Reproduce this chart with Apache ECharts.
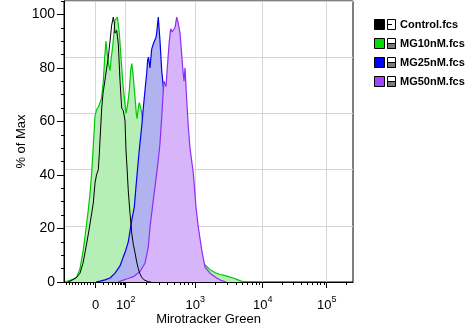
<!DOCTYPE html>
<html><head><meta charset="utf-8">
<script src="https://cdn.jsdelivr.net/npm/echarts@6/dist/echarts.min.js"></script>
<style>html,body{margin:0;padding:0;background:#fff}#c{width:474px;height:331px}</style>
</head><body><div id="c"></div>
<script>
// x = display channel (0-1024) of the biexponential axis, y = % of Max
const seriesNames = ['Control.fcs', 'MG10nM.fcs', 'MG25nM.fcs', 'MG50nM.fcs'];
const control = [[14,0],[21.3,0.3],[28.3,0.8],[42.5,1.5],[56.7,3.3],[67.3,7],[77.9,13],[88.6,19.4],[98.2,25.7],[103.8,29.5],[109.9,37],[115.2,40],[121.6,42],[125.2,48],[127.6,53],[133.6,65],[138.2,70.5],[145.3,75.5],[151.3,80],[157.0,84],[163.0,90],[169.0,96],[174.7,99],[177.9,97],[180.7,93],[186.7,94],[192.4,89],[198.4,75.4],[204.4,65],[210.1,64],[216.1,60.4],[219.7,49],[223.2,43],[227.8,34],[233.9,25.7],[239.9,18.3],[245.6,14],[251.6,11],[257.6,7.5],[263.3,5],[269.3,3],[275.3,1.8],[283.5,0.8],[298.7,0.1],[308.3,0]];
const mg10 = [[7.1,0.2],[21.3,0.6],[35.4,1.2],[45.0,1.8],[56.7,5],[68.4,12],[78.0,20],[86.1,27],[92.1,33],[98.2,41],[103.8,51],[109.9,62],[115.9,64.5],[121.5,65.3],[127.6,67],[133.6,69],[139.3,75],[144.2,84],[148.8,90],[153.4,85],[158.4,81],[163.0,79],[167.6,84],[172.6,88],[180.7,97.8],[188.9,99],[195.9,93],[202.0,84],[208.0,75],[214.4,68],[219.7,63],[225.0,66],[231.4,71.6],[236.3,79],[239.9,81.6],[243.4,79],[245.6,76.5],[251.6,69],[256.2,63],[258.7,61],[263.3,65],[266.8,67],[269.3,67],[273.9,64],[278.1,61],[284.5,58],[290.6,50],[297.6,43],[304.7,37],[322.4,29],[340.2,24],[357.9,21],[375.6,19],[393.4,17.5],[411.1,16],[428.7,14.5],[446.5,12.5],[464.2,10.5],[481.9,8.5],[493.6,7],[505.6,5.8],[517.3,4.6],[529.0,3.9],[541.1,3.2],[552.8,2.8],[564.4,2.6],[576.5,2.2],[588.2,1.8],[599.9,1.5],[611.9,1],[623.6,0.5],[634.3,0.1],[641.3,0]];
const mg25 = [[113.4,0],[127.6,0.3],[145.3,0.8],[163.0,1.5],[180.7,3.3],[198.4,6],[210.1,9.4],[216.1,11],[227.8,15],[239.9,23],[249.1,28],[255.1,35.6],[263.3,45.5],[269.3,52],[275.3,58],[281.0,65],[287.0,71.6],[293.0,78],[296.5,83],[299.4,84],[304.7,80],[310.7,87],[316.4,89],[322.4,89.6],[325.9,91.4],[328.4,93],[334.1,99],[340.2,90],[346.2,79],[351.8,73],[357.9,63],[366.8,48],[375.6,36],[384.5,25],[393.4,17],[402.2,11],[411.1,7],[428.7,3],[446.5,1.2],[464.2,0.4],[481.9,0]];
const mg50 = [[191.3,0],[210.1,0.7],[226.8,1.3],[245.6,2],[269.3,3.9],[287.0,7],[298.7,13],[304.7,20.5],[316.4,30.6],[328.5,40.7],[336.6,48],[340.2,52],[346.2,61.6],[350.8,70],[354.3,75],[361.4,73],[366.0,80],[373.1,90],[378.0,94.6],[382.6,93.5],[387.3,93],[393.3,95],[399.3,99],[405.0,96.6],[411.0,93],[416.3,86],[420.6,80],[425.2,75],[428.7,80],[434.8,68],[440.4,58],[446.5,50],[458.2,40.7],[467.7,28],[475.9,20.5],[487.9,12],[499.6,5.6],[517.3,3.3],[541.1,1.5],[558.8,0.5],[574.1,0]];

// axis: intensity values of labelled ticks and their display channels
const xTickValues = [0, 100, 1000, 10000, 100000];
const xTickChannels = [112.3, 218.6, 465.2, 704.0, 930.8];
const xTickLabels = ['0', '10^2', '10^3', '10^4', '10^5'];
const yTickValues = [0, 20, 40, 60, 80, 100];

function toChannel(v) {
  const c0 = xTickChannels[0], c100 = xTickChannels[1];
  if (v <= 0) return c0 + v * 1.0276;
  if (v < 100) return c0 + (c100 - c0) * Math.asinh(v / 15) / Math.asinh(100 / 15);
  const lg = Math.log10(v);
  let k = Math.floor(lg) - 2 + 1;
  if (k >= xTickChannels.length - 1) {
    const n = xTickChannels.length - 1;
    return xTickChannels[n] + (lg - 5) * (xTickChannels[n] - xTickChannels[n - 1]);
  }
  return xTickChannels[k] + (xTickChannels[k + 1] - xTickChannels[k]) * (lg - Math.floor(lg));
}
const xMinor = [];
for (let m = 1; m <= 10; m++) xMinor.push(toChannel(-10 * m));
for (let m = 1; m <= 9; m++) xMinor.push(toChannel(10 * m));
for (let d = 100; d <= 100000; d *= 10) for (let m = 2; m <= 9; m++) { const c = toChannel(d * m); if (c <= 1024) xMinor.push(c); }
const xMajor = xTickValues.map(toChannel);
const yMinor = [];
for (let v = 5; v <= 105; v += 5) if (v % 20 !== 0) yMinor.push(v);

const FONT = 'Liberation Sans, Arial, sans-serif';
const lineColors = ['#000000', '#00c800', '#0000f0', '#8f2cf5'];
const fillColors = [null, '#b5efb5', '#b0b3f0', '#d8b4fb'];
const legendColors = ['#000000', '#00dc00', '#0000ff', '#a046ff'];
const GRIDC = '#d4d4d4';

const chart = echarts.init(document.getElementById('c'), null, {renderer: 'canvas'});
function mk(name, data, i, z) {
  const s = {name, type: 'line', data, xAxisIndex: 0, yAxisIndex: 0, symbol: 'none', smooth: false,
    lineStyle: {color: lineColors[i], width: i === 0 ? 1 : 1.2}, z, animation: false};
  if (fillColors[i]) s.areaStyle = {color: fillColors[i], opacity: 1};
  return s;
}
const legendGraphics = [];
seriesNames.forEach((n, i) => {
  const top = 19 + i * 19;
  legendGraphics.push({type: 'rect', shape: {x: 374.5, y: top + 0.5, width: 10, height: 10}, style: {fill: legendColors[i], stroke: '#000', lineWidth: 1}});
  legendGraphics.push({type: 'rect', shape: {x: 387.5, y: top + 0.5, width: 8, height: 10}, style: {fill: '#fff', stroke: '#000', lineWidth: 1}});
  if (i === 0) {
    legendGraphics.push({type: 'line', shape: {x1: 388, y1: top + 5.5, x2: 392, y2: top + 5.5}, style: {stroke: '#000', lineWidth: 1}});
  } else {
    legendGraphics.push({type: 'rect', shape: {x: 387.5, y: top + 5.5, width: 8, height: 5}, style: {fill: '#7a7a7a', stroke: '#000', lineWidth: 1}});
  }
  legendGraphics.push({type: 'text', x: 400, y: top + 5.5, style: {text: n, font: 'bold 11px ' + FONT, fill: '#000', verticalAlign: 'middle', textAlign: 'left'}});
});

chart.setOption({
  animation: false,
  backgroundColor: '#fff',
  grid: {left: 64, right: 121, top: 1, bottom: 49, show: true, borderColor: '#000', borderWidth: 1,
    backgroundColor: 'transparent', containLabel: false, outerBoundsMode: 'none'},
  xAxis: [
    {type: 'value', min: 0, max: 1024, position: 'bottom',
      name: 'Mirotracker Green', nameLocation: 'middle', nameGap: 31, nameMoveOverlap: false,
      nameTextStyle: {fontFamily: FONT, fontSize: 13, color: '#000'},
      axisLine: {show: true, lineStyle: {color: '#000', width: 1}},
      axisTick: {show: true, length: 6, customValues: xMajor, lineStyle: {color: '#000'}},
      axisLabel: {show: true, customValues: xMajor, margin: 13,
        formatter: (val) => {
          let idx = 0, best = 1e9;
          xMajor.forEach((c, i) => { if (Math.abs(c - val) < best) { best = Math.abs(c - val); idx = i; } });
          const t = xTickLabels[idx];
          if (t.indexOf('^') < 0) return '{b|' + t + '}';
          const p = t.split('^');
          return '{b|' + p[0] + '}{s|' + p[1] + '}';
        },
        rich: {
          b: {fontFamily: FONT, fontSize: 13, color: '#000', lineHeight: 20},
          s: {fontFamily: FONT, fontSize: 9, color: '#000', lineHeight: 9, verticalAlign: 'top'}
        }},
      splitLine: {show: true, lineStyle: {color: GRIDC, width: 1}}},
    {type: 'value', min: 0, max: 1024, position: 'bottom',
      axisLine: {show: false}, axisLabel: {show: false}, splitLine: {show: false},
      axisTick: {show: true, length: 3, customValues: xMinor, lineStyle: {color: '#000'}}}
  ],
  yAxis: [
    {type: 'value', min: 0, max: 105, position: 'left',
      name: '% of Max', nameLocation: 'middle', nameGap: 36, nameRotate: 90, nameMoveOverlap: false,
      nameTextStyle: {fontFamily: FONT, fontSize: 13, color: '#000'},
      axisLine: {show: true, lineStyle: {color: '#000', width: 1}},
      axisTick: {show: true, length: 7, customValues: yTickValues, lineStyle: {color: '#000'}},
      axisLabel: {show: true, customValues: yTickValues, margin: 9, fontFamily: FONT, fontSize: 14, color: '#000'},
      splitLine: {show: false}},
    {type: 'value', min: 0, max: 105, position: 'left',
      axisLine: {show: false}, axisLabel: {show: false}, splitLine: {show: false},
      axisTick: {show: true, length: 3, customValues: yMinor, lineStyle: {color: '#000'}}},
    {type: 'value', min: 0, max: 5, interval: 1, position: 'left',
      axisLine: {show: false}, axisLabel: {show: false},
      axisTick: {show: false},
      splitLine: {show: true, lineStyle: {color: GRIDC, width: 1}}}
  ],
  series: [
    mk(seriesNames[1], mg10, 1, 2),
    mk(seriesNames[2], mg25, 2, 3),
    mk(seriesNames[3], mg50, 3, 4),
    mk(seriesNames[0], control, 0, 5)
  ],
  graphic: legendGraphics
});
</script></body></html>
